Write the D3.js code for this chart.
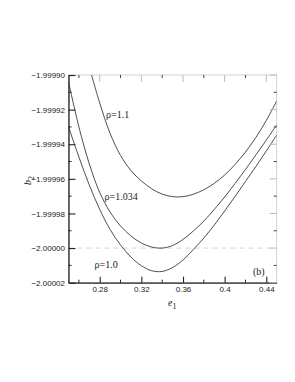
<!DOCTYPE html>
<html>
<head>
<meta charset="utf-8">
<script src="https://cdn.jsdelivr.net/npm/d3@7/dist/d3.min.js"></script>
<style>
  body { margin: 0; background: #fff; }
  svg { display: block; }
  .axis text { font-family: "Liberation Sans", Arial, sans-serif; font-size: 8px; fill: #222; }
  .lbl { font-family: "Liberation Serif", "Times New Roman", serif; font-size: 10px; fill: #222; }
</style>
</head>
<body>
<svg id="chart" width="295" height="382"></svg>
<script>

// e1 sample positions
const e1 = [0.25, 0.26, 0.27, 0.28, 0.29, 0.30, 0.31, 0.32, 0.33, 0.34, 0.35,
            0.36, 0.37, 0.38, 0.39, 0.40, 0.41, 0.42, 0.43, 0.44, 0.45];

// b2 for each rho (null = above the frame)
const b2_rho1_1 = [null, null, -1.9998954, -1.9999162, -1.9999338, -1.9999465, -1.9999552,
                   -1.9999612, -1.9999658, -1.9999688, -1.9999703, -1.9999703, -1.9999689,
                   -1.9999663, -1.9999626, -1.9999578, -1.9999517, -1.9999445, -1.9999361,
                   -1.9999263, -1.9999150];
const b2_rho1_034 = [-1.9999039, -1.9999300, -1.9999514, -1.9999679, -1.9999792, -1.9999872,
                     -1.9999930, -1.9999971, -1.9999994, -2.0000000, -1.9999985, -1.9999950,
                     -1.9999901, -1.9999844, -1.9999777, -1.9999705, -1.9999627, -1.9999546,
                     -1.9999462, -1.9999376, -1.9999289];
const b2_rho1_0 = [-1.9999299, -1.9999474, -1.9999636, -1.9999777, -1.9999893, -1.9999982,
                   -2.0000052, -2.0000102, -2.0000131, -2.0000135, -2.0000112, -2.0000069,
                   -2.0000008, -1.9999942, -1.9999867, -1.9999786, -1.9999702, -1.9999615,
                   -1.9999529, -1.9999439, -1.9999347];

const seriesNames = ["\u03c1=1.1", "\u03c1=1.034", "\u03c1=1.0"];

// ticks
const xTicks = [0.28, 0.32, 0.36, 0.40, 0.44];
const xMinor = [0.26, 0.30, 0.34, 0.38, 0.42];
const yTicks = [-2.00002, -2.00000, -1.99998, -1.99996, -1.99994, -1.99992, -1.99990];
const yMinor = [-2.00001, -1.99999, -1.99997, -1.99995, -1.99993, -1.99991];

const refLine = -2.0;
const panelTag = "(b)";

const margin = {left: 68.5, top: 75};
const width = 208.2, height = 207.7;

const svg = d3.select("#chart");
const g = svg.append("g").attr("transform", "translate(" + margin.left + "," + margin.top + ")");

const x = d3.scaleLinear().domain([0.25, 0.45]).range([0, width]);
const y = d3.scaleLinear().domain([-2.00002, -1.9999]).range([height, 0]);

g.append("clipPath").attr("id", "clip")
  .append("rect").attr("width", width).attr("height", height);

// light top / right frame
g.append("rect").attr("width", width).attr("height", height)
  .attr("fill", "none").attr("stroke", "#c8c8c8").attr("stroke-width", 0.8);

// dashed reference line at b2 = -2
g.append("line")
  .attr("x1", 0).attr("x2", width)
  .attr("y1", y(refLine)).attr("y2", y(refLine))
  .attr("stroke", "#d4d4d4").attr("stroke-width", 1).attr("stroke-dasharray", "5,4");

// curves
const line = d3.line()
  .defined(d => d[1] !== null)
  .x(d => x(d[0]))
  .y(d => y(d[1]))
  .curve(d3.curveCatmullRom);

[b2_rho1_1, b2_rho1_034, b2_rho1_0].forEach(vals => {
  g.append("path")
    .attr("clip-path", "url(#clip)")
    .attr("d", line(e1.map((e, i) => [e, vals[i]])))
    .attr("fill", "none").attr("stroke", "#3a3a3a").attr("stroke-width", 0.9);
});

// left axis
const yAxis = g.append("g").attr("class", "axis")
  .call(d3.axisLeft(y).tickValues(yTicks).tickFormat(d3.format(".5f"))
    .tickSize(-7).tickSizeOuter(0).tickPadding(3.5));
yAxis.select(".domain").attr("stroke", "#222").attr("stroke-width", 1.3);
yAxis.selectAll(".tick line").attr("stroke", "#222").attr("stroke-width", 1.1);
yAxis.selectAll(".minor").data(yMinor).enter().append("line")
  .attr("x1", 0).attr("x2", 3).attr("y1", d => y(d)).attr("y2", d => y(d))
  .attr("stroke", "#222");

// bottom axis
const xAxis = g.append("g").attr("class", "axis")
  .attr("transform", "translate(0," + height + ")")
  .call(d3.axisBottom(x).tickValues(xTicks).tickFormat(d => String(+d.toFixed(2)))
    .tickSize(-6).tickSizeOuter(0).tickPadding(4));
xAxis.select(".domain").attr("stroke", "#222").attr("stroke-width", 1.3);
xAxis.selectAll(".tick line").attr("stroke", "#222").attr("stroke-width", 1.1);
xAxis.selectAll(".minor").data(xMinor).enter().append("line")
  .attr("x1", d => x(d)).attr("x2", d => x(d)).attr("y1", 0).attr("y2", -3)
  .attr("stroke", "#222");

// mirrored ticks on top and right (no labels)
const topTicks = g.append("g");
topTicks.selectAll(".maj").data(xTicks).enter().append("line")
  .attr("x1", d => x(d)).attr("x2", d => x(d)).attr("y1", 0).attr("y2", 7)
  .attr("stroke", "#bbb");
topTicks.selectAll(".min").data(xMinor).enter().append("line")
  .attr("x1", d => x(d)).attr("x2", d => x(d)).attr("y1", 0).attr("y2", 3)
  .attr("stroke", "#444");

const rightTicks = g.append("g");
rightTicks.selectAll(".maj").data(yTicks).enter().append("line")
  .attr("x1", width).attr("x2", width - 7).attr("y1", d => y(d)).attr("y2", d => y(d))
  .attr("stroke", "#bbb");
rightTicks.selectAll(".min").data(yMinor).enter().append("line")
  .attr("x1", width).attr("x2", width - 3).attr("y1", d => y(d)).attr("y2", d => y(d))
  .attr("stroke", "#444");

// curve labels
const labelPos = [[106, 118], [104.5, 200], [94.5, 268]];
seriesNames.forEach((s, i) => {
  svg.append("text").attr("class", "lbl")
    .attr("x", labelPos[i][0]).attr("y", labelPos[i][1]).text(s);
});

svg.append("text").attr("class", "lbl").attr("font-size", "10.5px")
  .attr("x", 253).attr("y", 275).text(panelTag);

// axis titles
const xt = svg.append("text").attr("class", "lbl").attr("font-size", "12px")
  .attr("x", 168).attr("y", 306);
xt.append("tspan").attr("font-style", "italic").text("e");
xt.append("tspan").attr("font-size", "8px").attr("dy", 2.5).text("1");

const yt = svg.append("text").attr("class", "lbl").attr("font-size", "12px")
  .attr("transform", "translate(31,185) rotate(-90)");
yt.append("tspan").attr("font-style", "italic").text("b");
yt.append("tspan").attr("font-size", "8px").attr("dy", 2.5).text("2");

</script>
</body>
</html>
